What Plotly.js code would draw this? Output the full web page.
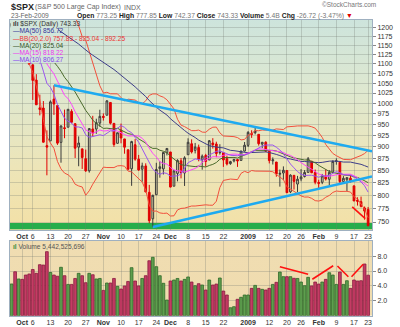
<!DOCTYPE html>
<html><head><meta charset="utf-8">
<script src="https://cdn.plot.ly/plotly-3.0.1.min.js"></script>
<style>html,body{margin:0;padding:0;background:#fff;}#chart{width:400px;height:327px;}</style>
</head><body><div id="chart"></div>
<script>
// ---------- DATA ----------
const dates = ['2008-09-26','2008-09-29','2008-09-30','2008-10-01','2008-10-02','2008-10-03','2008-10-06','2008-10-07','2008-10-08','2008-10-09','2008-10-10','2008-10-13','2008-10-14','2008-10-15','2008-10-16','2008-10-17','2008-10-20','2008-10-21','2008-10-22','2008-10-23','2008-10-24','2008-10-27','2008-10-28','2008-10-29','2008-10-30','2008-10-31','2008-11-03','2008-11-04','2008-11-05','2008-11-06','2008-11-07','2008-11-10','2008-11-11','2008-11-12','2008-11-13','2008-11-14','2008-11-17','2008-11-18','2008-11-19','2008-11-20','2008-11-21','2008-11-24','2008-11-25','2008-11-26','2008-11-28','2008-12-01','2008-12-02','2008-12-03','2008-12-04','2008-12-05','2008-12-08','2008-12-09','2008-12-10','2008-12-11','2008-12-12','2008-12-15','2008-12-16','2008-12-17','2008-12-18','2008-12-19','2008-12-22','2008-12-23','2008-12-24','2008-12-26','2008-12-29','2008-12-30','2008-12-31','2009-01-02','2009-01-05','2009-01-06','2009-01-07','2009-01-08','2009-01-09','2009-01-12','2009-01-13','2009-01-14','2009-01-15','2009-01-16','2009-01-20','2009-01-21','2009-01-22','2009-01-23','2009-01-26','2009-01-27','2009-01-28','2009-01-29','2009-01-30','2009-02-02','2009-02-03','2009-02-04','2009-02-05','2009-02-06','2009-02-09','2009-02-10','2009-02-11','2009-02-12','2009-02-13','2009-02-17','2009-02-18','2009-02-19','2009-02-20','2009-02-23'];
const open = [1204.47,1209.07,1113.78,1164.17,1160.64,1115.16,1097.56,1057.60,988.91,988.42,
902.31,912.75,1009.97,994.60,909.53,942.29,943.51,980.40,951.67,899.08,
895.22,874.28,848.92,939.51,939.38,953.11,968.67,971.31,1001.84,952.40,
907.44,936.75,917.15,893.39,853.13,904.36,873.23,852.34,859.03,805.87,
755.84,801.20,853.40,852.90,886.89,888.61,817.94,843.60,869.75,844.43,
882.71,906.48,892.17,898.35,871.79,881.07,871.53,908.16,905.98,886.96,
887.20,874.31,863.87,869.51,872.37,870.58,890.59,902.99,929.17,931.17,
927.45,905.73,909.91,890.40,869.79,867.28,841.99,844.45,849.64,806.77,
839.74,822.16,832.50,837.30,845.73,868.89,845.69,823.09,825.69,837.77,
831.75,846.09,868.24,866.87,827.41,830.95,833.95,818.61,791.06,787.91,
775.87,773.25];
const high = [1215.77,1209.07,1168.03,1167.03,1160.64,1153.82,1097.56,1072.91,1021.06,1005.25,
936.36,1006.93,1044.31,994.60,947.71,984.64,985.40,985.44,951.67,922.83,
896.30,893.78,940.51,969.97,963.23,984.38,975.57,1007.51,1001.84,952.40,
931.46,951.95,917.15,893.39,913.01,916.88,882.29,865.90,864.57,820.52,
801.20,865.60,868.94,887.68,896.25,888.61,850.54,873.12,875.60,879.42,
918.57,916.26,908.27,904.63,883.24,884.63,914.66,918.85,911.02,905.47,
887.37,880.44,869.79,873.74,873.70,891.12,910.32,934.73,936.63,943.85,
927.45,910.00,911.93,890.40,877.02,867.28,851.59,858.13,849.64,841.72,
839.74,838.61,852.53,850.45,877.86,868.89,851.66,830.78,842.60,851.85,
850.55,870.75,875.01,868.05,838.22,835.13,839.43,818.61,796.17,797.58,
778.69,777.85];
const low = [1187.54,1106.42,1113.78,1140.77,1111.43,1098.14,1007.97,996.23,970.97,909.19,
839.80,912.75,972.07,903.99,865.83,918.74,943.51,952.47,875.81,858.44,
852.85,846.75,845.27,922.26,928.50,944.59,958.82,971.31,949.86,899.73,
906.90,907.47,884.90,850.48,818.69,869.88,848.98,826.84,806.18,747.78,
741.02,801.20,834.99,841.37,881.21,815.69,817.94,827.60,833.60,818.41,
882.71,885.38,885.45,868.73,851.35,857.72,871.53,895.94,877.44,883.02,
857.09,860.10,861.44,866.52,857.07,870.58,889.67,899.35,919.53,927.28,
902.37,896.81,888.31,864.32,862.02,836.93,817.04,830.66,804.47,804.30,
811.29,806.07,827.69,835.40,845.73,844.15,821.67,812.87,821.98,829.18,
819.91,845.42,861.65,822.99,822.30,808.06,825.21,789.17,780.43,777.03,
754.25,742.37];
const close = [1213.27,1106.39,1166.36,1161.06,1114.28,1099.23,1056.89,996.23,984.94,909.92,
899.22,1003.35,998.01,907.84,946.43,940.55,985.40,955.05,896.78,908.11,
876.77,848.92,940.51,930.09,954.09,968.75,966.30,1005.75,952.77,904.88,
930.99,919.21,898.95,852.30,911.29,873.29,850.75,859.12,806.58,752.44,
800.03,851.81,857.39,887.68,896.24,816.21,848.81,870.74,845.22,876.07,
909.70,888.67,899.24,873.59,879.73,868.57,913.18,904.42,885.28,887.88,
871.63,863.16,868.15,872.80,869.42,890.64,903.25,931.80,927.45,934.70,
906.65,909.73,890.35,870.26,871.79,842.62,843.74,850.12,805.22,840.24,
827.50,831.95,836.57,845.71,874.09,845.14,825.88,825.44,838.51,832.23,
845.85,868.60,869.89,827.16,833.74,835.19,826.84,789.17,788.42,778.94,
770.05,743.33];
// closes before the first visible bar (needed for the moving averages)
const priorCloses = [1214.91,1245.36,1260.32,1260.68,1260.00,1277.00,1282.19,1252.54,1257.76,1234.37,1263.20,1284.26,1267.38,
1260.31,1249.01,1284.88,1289.19,1266.07,1296.32,1305.32,1289.59,1285.83,1292.93,1298.20,1278.60,1266.69,1274.54,1277.72,1292.20,1266.84,1271.51,1281.66,1300.68,1282.83,
1277.58,1274.98,1236.83,1242.31,1267.79,1224.51,1232.04,1249.05,1251.70,1192.70,1213.60,1156.39,1206.51,1255.08,1207.09,1188.22,1185.87,1209.18];
// volume, billions of shares
const volume = [4.26,5.90,4.93,4.88,5.46,5.60,6.20,5.69,6.85,6.80,
8.60,5.80,5.46,5.30,6.50,5.37,4.20,4.20,5.00,5.69,
5.37,4.43,5.69,5.50,4.93,5.00,3.40,4.39,4.39,5.00,
3.94,3.58,3.99,4.60,6.45,4.66,4.00,5.00,5.37,7.38,
7.84,6.58,5.37,4.35,2.10,4.66,4.79,5.00,4.66,4.88,
5.20,4.52,4.03,4.30,4.12,3.45,4.79,4.12,4.25,5.06,
3.31,2.78,1.07,1.21,2.20,2.47,2.78,2.78,3.67,4.07,
3.67,3.54,3.45,3.67,4.20,4.48,5.86,5.24,5.24,5.24,
5.02,5.00,4.52,4.03,5.15,4.00,4.52,4.25,4.52,4.88,
5.77,5.46,4.20,5.86,4.20,4.70,3.67,4.79,4.66,4.70,
6.94,5.44];
const tickDates = ['2008-10-01','2008-10-06','2008-10-13','2008-10-20','2008-10-27','2008-11-03','2008-11-10','2008-11-17','2008-11-24','2008-12-01','2008-12-08','2008-12-15','2008-12-22','2009-01-02','2009-01-12','2009-01-20','2009-01-26','2009-02-02','2009-02-09','2009-02-17','2009-02-23'];
const tickLabels = ['Oct','6','13','20','27','Nov','10','17','24','Dec','8','15','22','2009','12','20','26','Feb','9','17','23'];
const monthLabels = ['Oct','Nov','Dec','2009','Feb'];
const priceTicks = [750,775,800,825,850,875,900,925,950,975,1000,1025,1050,1075,1100,1125,1150,1175,1200];
const volumeTicks = [2,4,6,8];
const volumeTickLabels = ['2.0','4.0','6.0','8.0'];
// trendlines drawn on the chart: anchor dates and prices
const upperTrendDates = ['2008-10-14','2009-01-06'];
const upperTrendPrices = [1044.31, 943.85];
const lowerTrendDates = ['2008-11-21','2009-02-02'];
const lowerTrendPrices = [741.02, 812.87];
// hand-drawn red marks (bar position, value)
const redPriceMarkX = [96.5, 100.2];
const redPriceMarkY = [778, 756];
const redVolMarks = [[76.0,6.58,84.0,5.56],[85.2,4.89,91.1,6.71],[92.3,6.67,95.4,5.23],[96.3,5.23,99.6,6.9]];

// ---------- DERIVED ----------
const xi = dates.map((d,i)=>i);
const all = priorCloses.concat(close);
const off = priorCloses.length;
function sma(n){return close.map((_,i)=>{const j=i+off;let s=0;for(let k=j-n+1;k<=j;k++)s+=all[k];return s/n;});}
function bands(n,m){const up=[],lo=[];close.forEach((_,i)=>{const j=i+off;let s=0;for(let k=j-n+1;k<=j;k++)s+=all[k];const mu=s/n;let v=0;for(let k=j-n+1;k<=j;k++)v+=(all[k]-mu)**2;const sd=Math.sqrt(v/n);up.push(mu+m*sd);lo.push(mu-m*sd);});return [up,lo];}
const ma50=sma(50), ma20=sma(20), ma15=sma(15), ma10=sma(10);
const [bbU,bbL]=bands(20,2);
const prevClose = close.map((c,i)=> i===0 ? priorCloses[priorCloses.length-1] : close[i-1]);
const upDay = close.map((c,i)=> c >= prevClose[i]);
const dnDay = upDay.map(v=>!v);

const X0=-0.45, X1=102.1;
function trend(ds, ps){const i0=dates.indexOf(ds[0]), i1=dates.indexOf(ds[1]);const k=Math.log(ps[1]/ps[0])/(i1-i0);return {x:[i0,X1],y:[ps[0],ps[0]*Math.exp(k*(X1-i0))]};}
const upT=trend(upperTrendDates,upperTrendPrices), loT=trend(lowerTrendDates,lowerTrendPrices);
function pick(arr, cond){return arr.filter((_,i)=>cond[i]);}

const tickIdx = tickDates.map(d=>dates.indexOf(d));
const tickText = tickLabels.map(t=> monthLabels.includes(t) ? '<b>'+t+'</b>' : t);

// ---------- LAYOUT GEOMETRY ----------
const W=400,H=327,ML=10,MR=28;
const px=v=>(v-ML)/(W-ML-MR), py=v=>(H-v)/H;
const priceDom=[py(230),py(19.5)], volDom=[py(315.7),py(241)];

function grad(stops){const s=stops.map(([o,c])=>`<stop offset="${o}" stop-color="${c}"/>`).join('');
 const svg=`<svg xmlns="http://www.w3.org/2000/svg" width="10" height="100" viewBox="0 0 10 100" preserveAspectRatio="none"><defs><linearGradient id="g" x1="0" y1="0" x2="0" y2="1">${s}</linearGradient></defs><rect width="10" height="100" fill="url(#g)"/></svg>`;
 return 'data:image/svg+xml;base64,'+btoa(svg);}

const candleBase = {type:'candlestick', xaxis:'x', yaxis:'y', hoverinfo:'skip', showlegend:false, whiskerwidth:0};
const traces = [
 Object.assign({}, candleBase, {x:pick(xi,upDay), open:pick(open,upDay), high:pick(high,upDay), low:pick(low,upDay), close:pick(close,upDay),
   increasing:{line:{color:'#3a3a3a',width:1},fillcolor:'rgba(0,0,0,0)'}, decreasing:{line:{color:'#3a3a3a',width:1},fillcolor:'#3a3a3a'}}),
 Object.assign({}, candleBase, {x:pick(xi,dnDay), open:pick(open,dnDay), high:pick(high,dnDay), low:pick(low,dnDay), close:pick(close,dnDay),
   increasing:{line:{color:'#e00000',width:1},fillcolor:'rgba(0,0,0,0)'}, decreasing:{line:{color:'#e00000',width:1},fillcolor:'#e00000'}}),
];
function line(y,color,w){return {type:'scatter',mode:'lines',x:xi,y:y,line:{color:color,width:w||1},hoverinfo:'skip',showlegend:false,xaxis:'x',yaxis:'y'};}
traces.push(line(bbU,'#f2503c'), line(bbL,'#f2503c'), line(ma50,'#3d3d88'), line(ma20,'#4b6a2c'), line(ma15,'#ff44ff'), line(ma10,'#9a55f0'));
traces.push({type:'scatter',mode:'lines',x:upT.x,y:upT.y,line:{color:'#1eaaf0',width:2.6},hoverinfo:'skip',showlegend:false,xaxis:'x',yaxis:'y'});
traces.push({type:'scatter',mode:'lines',x:loT.x,y:loT.y,line:{color:'#1eaaf0',width:2.6},hoverinfo:'skip',showlegend:false,xaxis:'x',yaxis:'y'});
traces.push({type:'scatter',mode:'lines',x:redPriceMarkX,y:redPriceMarkY,line:{color:'#ff1010',width:1.6},hoverinfo:'skip',showlegend:false,xaxis:'x',yaxis:'y'});
traces.push({type:'bar',x:xi,y:volume,xaxis:'x2',yaxis:'y2',hoverinfo:'skip',showlegend:false,
  marker:{color:upDay.map(u=>u?'#5e9e4e':'#c43c64'),line:{color:upDay.map(u=>u?'#2f6a2a':'#8a1a40'),width:0.8}}});
const vx=[],vy=[];redVolMarks.forEach(m=>{vx.push(m[0],m[2],null);vy.push(m[1],m[3],null);});
traces.push({type:'scatter',mode:'lines',x:vx,y:vy,line:{color:'#ff1010',width:1.6},hoverinfo:'skip',showlegend:false,xaxis:'x2',yaxis:'y2'});

const F='Liberation Sans, Arial, sans-serif';
const gridC='rgba(110,120,110,0.28)';
function ann(x,y,text,size,color,anchor,extra){return Object.assign({xref:'paper',yref:'paper',x:px(x),y:py(y),text:text,showarrow:false,xanchor:anchor||'left',yanchor:'middle',borderpad:0,font:{family:F,size:size,color:color}},extra||{});}
const numC='#777';
const LS=6.6;
const annotations = [
 ann(9.5,7,'<b>$SPX</b>',9,'#222'),
 ann(34,7.5,'(S&amp;P 500 Large Cap Index)',7,'#666'),
 ann(123,7.5,'INDX',7,'#666'),
 ann(376.5,5,'©StockCharts.com',6.5,'#777','right'),
 ann(10,15.5,'23-Feb-2009',6.6,'#666'),
 ann(76,15.5,`<b>Open</b> <span style="color:${numC}">773.25</span> <b>High</b> <span style="color:${numC}">777.85</span> <b>Low</b> <span style="color:${numC}">742.37</span> <b>Close</b> <span style="color:${numC}">743.33</span> <b>Volume</b> <span style="color:${numC}">5.4B</span> <b>Chg</b> <span style="color:${numC}">-26.72 (-3.47%)</span> <span style="color:#e00000">▼</span>`,6.8,'#222'),
 ann(11.5,24.2,'<b>ılı</b> $SPX (Daily) 743.33',LS,'#333'),
 ann(11.5,31.4,'—MA(50) 856.72',LS,'#333399'),
 ann(11.5,38.6,'—BB(20,2.0) 757.83 - 825.04 - 892.25',LS,'#ee3333'),
 ann(11.5,45.8,'—MA(20) 825.04',LS,'#335522'),
 ann(11.5,53,'—MA(15) 818.22',LS,'#ee33ee'),
 ann(11.5,60.2,'—MA(10) 806.27',LS,'#8844ee'),
 ann(12,246.5,'<span style="color:#3a8a3a"><b>ıl</b></span> Volume 5,442,525,696',6.6,'#555'),
];

const shapes = [
 {type:'rect',xref:'paper',yref:'paper',x0:px(10.5),x1:px(58),y0:py(63),y1:py(20),fillcolor:'#d2e5da',line:{width:0},layer:'above'},
 {type:'rect',xref:'paper',yref:'y domain',x0:0,x1:1,y0:0.003,y1:0.033,fillcolor:'#27ad4b',line:{width:0},layer:'below'},
];

const axisFont={family:F,size:7,color:'#333'};
const layout = {
 width:W,height:H,margin:{l:ML,r:MR,t:0,b:0},
 paper_bgcolor:'#ffffff',plot_bgcolor:'rgba(0,0,0,0)',
 font:{family:F,size:7,color:'#333'},
 showlegend:false, boxmode:'overlay', bargap:0.22,
 xaxis:{domain:[0,1],anchor:'y',range:[X0,X1],tickmode:'array',tickvals:tickIdx,ticktext:tickText,tickfont:axisFont,tickangle:0,
   showgrid:true,gridcolor:gridC,gridwidth:1,zeroline:false,ticks:'',showline:true,mirror:true,linecolor:'#9fb0c0',linewidth:1,
   rangeslider:{visible:false},fixedrange:true},
 yaxis:{domain:priceDom,anchor:'x',type:'log',range:[Math.log10(735.6),Math.log10(1224.8)],side:'right',tickmode:'array',tickvals:priceTicks,
   ticktext:priceTicks.map(String),tickfont:axisFont,ticks:'outside',ticklen:3,tickcolor:'#888',showgrid:true,gridcolor:gridC,
   zeroline:false,showline:true,mirror:true,linecolor:'#9fb0c0',linewidth:1,fixedrange:true},
 xaxis2:{domain:[0,1],anchor:'y2',matches:'x',range:[X0,X1],tickmode:'array',tickvals:tickIdx,ticktext:tickText,tickfont:axisFont,tickangle:0,
   showgrid:true,gridcolor:gridC,zeroline:false,ticks:'',showline:true,mirror:true,linecolor:'#9fb0c0',linewidth:1,fixedrange:true},
 yaxis2:{domain:volDom,anchor:'x2',range:[0,10.03],side:'right',tickmode:'array',tickvals:volumeTicks,ticktext:volumeTickLabels,
   tickfont:axisFont,ticks:'outside',ticklen:3,tickcolor:'#888',showgrid:true,gridcolor:gridC,zeroline:false,showline:true,mirror:true,
   linecolor:'#9fb0c0',linewidth:1,fixedrange:true},
 images:[
  {source:grad([[0,'#cde4dc'],[0.35,'#dfe8cf'],[0.7,'#ede5b8'],[1,'#f3e0a6']]),xref:'paper',yref:'paper',x:0,y:priceDom[1],sizex:1,sizey:priceDom[1]-priceDom[0],xanchor:'left',yanchor:'top',sizing:'stretch',layer:'below'},
  {source:grad([[0,'#f0ddb2'],[1,'#efdcae']]),xref:'paper',yref:'paper',x:0,y:volDom[1],sizex:1,sizey:volDom[1]-volDom[0],xanchor:'left',yanchor:'top',sizing:'stretch',layer:'below'}
 ],
 shapes:shapes, annotations:annotations
};
Plotly.newPlot('chart',traces,layout,{displayModeBar:false,staticPlot:true});
</script></body></html>
